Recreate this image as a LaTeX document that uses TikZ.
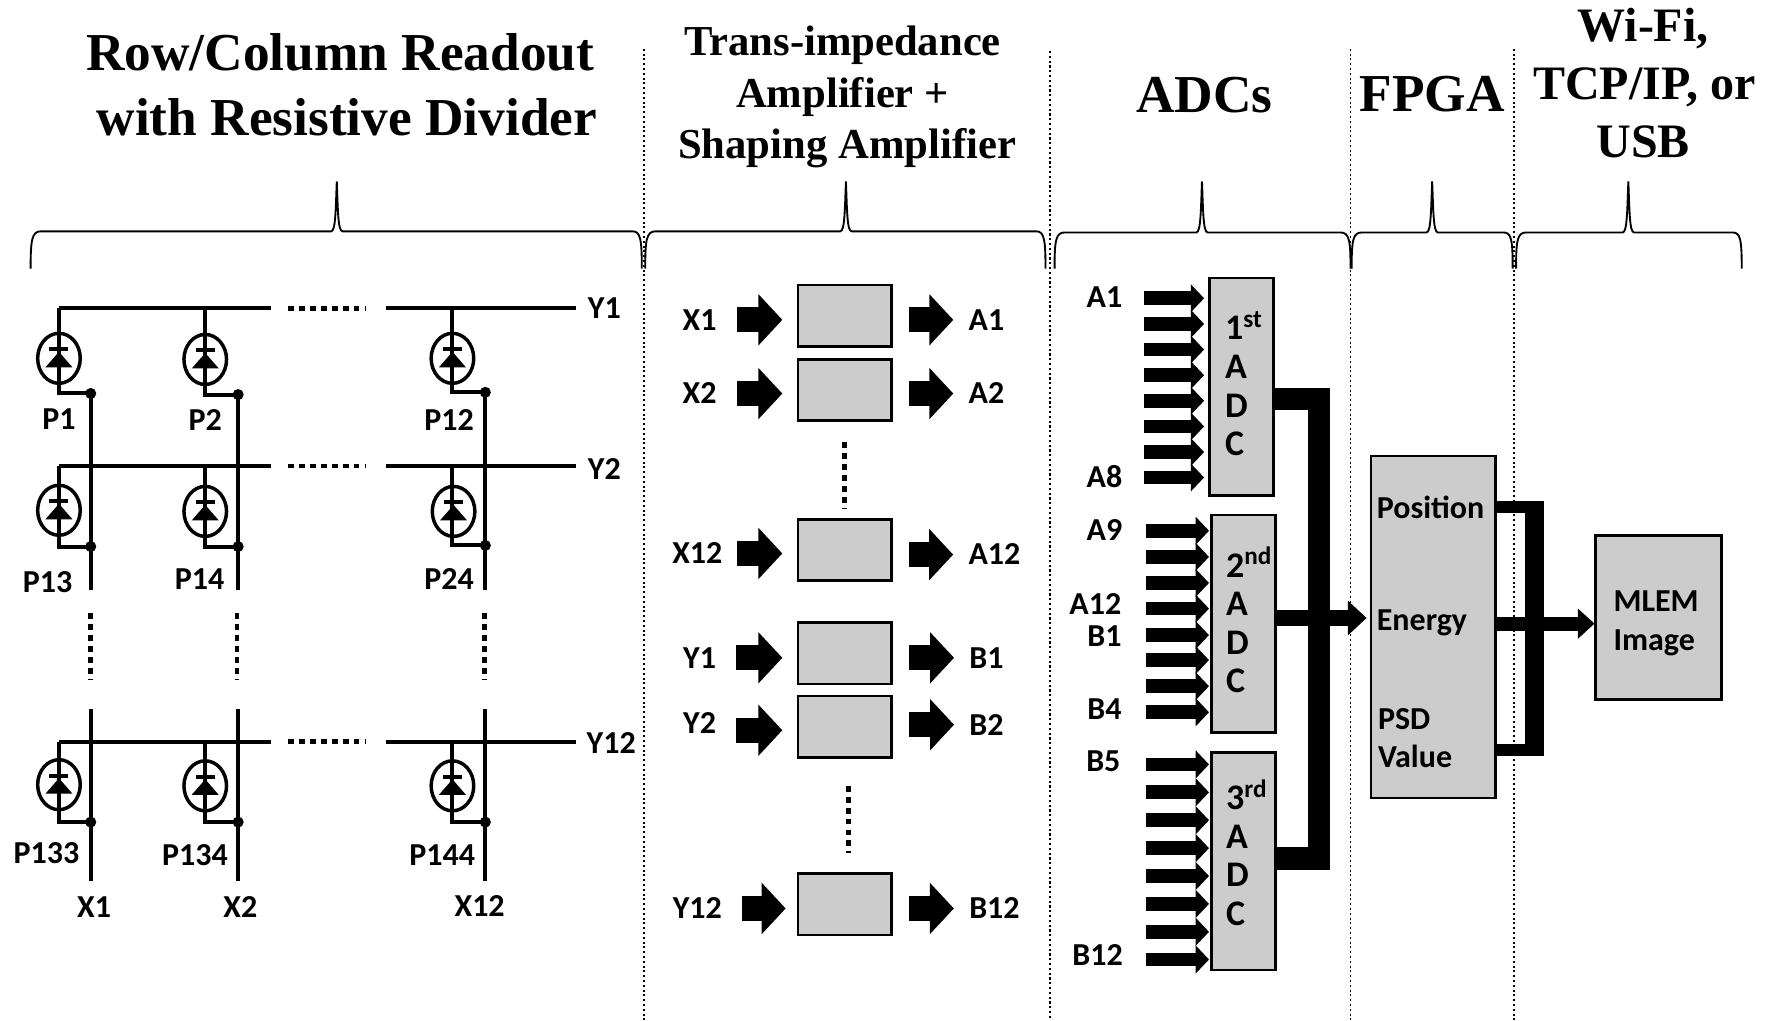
\documentclass[tikz,border=0pt]{standalone}
\usepackage{fontspec}
\setmainfont{Liberation Serif}
\setsansfont{Carlito}
\usetikzlibrary{arrows.meta}
\usetikzlibrary{calc}
\tikzset{>={Triangle[length=18pt,width=37.5pt]}}
\tikzset{
  lab/.style={font=\sffamily\bfseries\fontsize{24}{29}\selectfont,inner sep=0pt},
  heada/.style={font=\bfseries\fontsize{40}{40}\selectfont,inner sep=0pt},
  headb/.style={font=\bfseries\fontsize{32}{32}\selectfont,inner sep=0pt},
  headc/.style={font=\bfseries\fontsize{36}{36}\selectfont,inner sep=0pt},
  graybox/.style={draw,line width=1.9pt,fill={rgb, 255:red, 205; green, 204; blue, 204 },inner sep=0pt},
  ampbox/.style={graybox,minimum width=70pt,minimum height=46pt},
  adcbox/.style={graybox,minimum width=48pt,minimum height=163pt},
  adctext/.style={inner sep=0pt,text width=25pt,align=left,font=\sffamily\bfseries\fontsize{27}{29}\selectfont},
  wire/.style={line width=3pt},
  spots/.style={line width=3.5pt,dash pattern=on 4.4pt off 3.8pt},
  divider/.style={line width=1.1pt,dash pattern=on 1.6pt off 2pt},
  groupline/.style={line width=1.4pt},
  ampin/.style={->,line width=19pt,shorten <=15pt,shorten >=11pt},
  ampout/.style={->,line width=19pt,shorten <=12pt,shorten >=11.5pt},
  adcin/.style={-{Triangle[length=10pt,width=20.5pt]},line width=10.3pt,shorten >=1pt},
  bus/.style={line width=16.7pt},
  busarrow/.style={-{Triangle[length=14pt,width=25pt]},line width=12.7pt,shorten >=2.5pt},
  outarrow/.style={-{Triangle[length=12.5pt,width=22pt]},line width=10.7pt,shorten <=-2.5pt},
  detector/.pic={
    \draw [line width=2.6pt] (0,0) ellipse [x radius=21.3, y radius=25];
    \fill (-13.5,-9) -- (13.5,-9) -- (0,6.5) -- cycle;
    \draw [wire] (-9.5,9) -- (9.5,9);
  }
}
\begin{document}
\begin{tikzpicture}[x=0.75pt,y=0.75pt,yscale=-1.134,xscale=1.134]
\useasboundingbox (0,0) rectangle (1568,900);

%Dividers
\draw [divider] (568,43) -- (568,900);
\draw [divider] (926,45) -- (926,900);
\draw [divider] (1191,43) -- (1191,900);
\draw [divider] (1335,43) -- (1335,900);

%Headings
\node [heada] (headrow) at (300,46) {Row/Column Readout};
\node [heada] (headdiv) at (306,103) {with Resistive Divider};
\node [headb] (headtrans) at (743,40) {Trans-impedance};
\node [headb] (headamp) at (743,86) {Amplifier +};
\node [headb] (headshape) at (747,131) {Shaping Amplifier};
\node [heada] (headadc) at (1062,84) {ADCs};
\node [heada] (headfpga) at (1263,83) {FPGA};
\node [headc] (headwifi) at (1449,25) {Wi-Fi,};
\node [headc] (headtcp) at (1450,77) {TCP/IP, or};
\node [headc] (headusb) at (1449,125) {USB};

%Curve Lines
\draw [groupline] (27,237) .. controls (27,212) and (28,204) .. (36,204) -- (292,204) .. controls (296,204) and (296,185) .. (297,160) .. controls (298,185) and (298,204) .. (302,204) -- (558,204) .. controls (565,204) and (566,212) .. (566,237);
%Curve Lines
\draw [groupline] (569,237) .. controls (569,212) and (570,204) .. (578,204) -- (741,204) .. controls (745,204) and (745,185) .. (746,160) .. controls (747,185) and (747,204) .. (751,204) -- (914,204) .. controls (921,204) and (922,212) .. (922,237);
%Curve Lines
\draw [groupline] (930,237) .. controls (930,212) and (931,205) .. (939,205) -- (1055,205) .. controls (1059,205) and (1059,185) .. (1060,160) .. controls (1061,185) and (1061,205) .. (1065,205) -- (1182,205) .. controls (1190,205) and (1191,212) .. (1191,237);
%Curve Lines
\draw [groupline] (1192,237) .. controls (1192,212) and (1193,205) .. (1201,205) -- (1258,205) .. controls (1262,205) and (1262,185) .. (1263,160) .. controls (1264,185) and (1264,205) .. (1268,205) -- (1326,205) .. controls (1333,205) and (1334,212) .. (1334,237);
%Curve Lines
\draw [groupline] (1337,237) .. controls (1337,212) and (1338,205) .. (1346,205) -- (1431,205) .. controls (1435,205) and (1435,185) .. (1436,160) .. controls (1437,185) and (1437,205) .. (1441,205) -- (1528,205) .. controls (1535,205) and (1536,212) .. (1536,237);

%Row labels
\node [lab] (rowy1) at (533,272) {Y1};
\node [lab] (rowy2) at (533,414) {Y2};
\node [lab] (rowy12) at (539,655) {Y12};
%Row lines
\draw [wire] (52,272) -- (239,272);
\draw [spots] (254,272) -- (323,272);
\draw [wire] (340,272) -- (508,272);
\draw [wire] (52,411) -- (239,411);
\draw [spots] (254,411) -- (323,411);
\draw [wire] (340,411) -- (508,411);
\draw [wire] (52,654) -- (239,654);
\draw [spots] (254,654) -- (323,654);
\draw [wire] (340,654) -- (508,654);

%Column lines
\draw [wire] (80,347) -- (80,520);
\draw [wire] (210,348) -- (210,520);
\draw [wire] (428,346) -- (428,520);
\draw [spots] (80,541) -- (80,600);
\draw [spots] (209,541) -- (209,600);
\draw [spots] (427,541) -- (427,600);
\draw [wire] (80,625) -- (80,777);
\draw [wire] (210,625) -- (210,777);
\draw [wire] (428,625) -- (428,777);

%First row of detectors
\draw [wire] (52,272) -- (52,347) -- (80,347);
\draw [wire] (181,272) -- (181,348) -- (210,348);
\draw [wire] (399,272) -- (399,346) -- (428,346);
\pic at (52,316) {detector};
\pic at (181,317) {detector};
\pic at (399,316) {detector};
\fill (80,347) circle (4.9);
\fill (210,348) circle (4.9);
\fill (428,346) circle (4.9);
%Second row of detectors
\draw [wire] (52,411) -- (52,482) -- (80,482);
\draw [wire] (181,411) -- (181,482) -- (210,482);
\draw [wire] (399,411) -- (399,481) -- (428,481);
\pic at (52,450) {detector};
\pic at (181,451) {detector};
\pic at (400,451) {detector};
\fill (80,482) circle (4.9);
\fill (210,482) circle (4.9);
\fill (428,481) circle (4.9);
%Last row of detectors
\draw [wire] (52,654) -- (52,725) -- (80,725);
\draw [wire] (181,654) -- (181,725) -- (210,725);
\draw [wire] (399,654) -- (399,725) -- (428,725);
\pic at (52,692) {detector};
\pic at (181,693) {detector};
\pic at (399,693) {detector};
\fill (80,725) circle (4.9);
\fill (210,725) circle (4.9);
\fill (428,725) circle (4.9);

%Detector labels
\node [lab] (p1) at (52,370) {P1};
\node [lab] (p2) at (181,370) {P2};
\node [lab] (p12) at (396,370) {P12};
\node [lab] (p13) at (42,513) {P13};
\node [lab] (p14) at (176,511) {P14};
\node [lab] (p24) at (396,511) {P24};
\node [lab] (p133) at (41,752) {P133};
\node [lab] (p134) at (172,754) {P134};
\node [lab] (p144) at (390,754) {P144};
\node [lab] (colx1) at (83,800) {X1};
\node [lab] (colx2) at (212,800) {X2};
\node [lab] (colx12) at (423,799) {X12};

%Shape: Rectangle
\node [ampbox] (ampx1) at (745,278.5) {};
\node [ampbox] (ampx2) at (745,344) {};
\node [ampbox] (ampx12) at (745,485) {};
\node [ampbox] (ampy1) at (745,576) {};
\node [ampbox] (ampy2) at (745,641) {};
\node [ampbox] (ampy12) at (745,797.5) {};
\draw [spots] (745,390) -- (745,448);
\draw [spots] (748,693) -- (748,752);

%Amplifier inputs
\node [lab] (inx1) at (617,282) {X1};
\node [lab] (inx2) at (617,347) {X2};
\node [lab] (inx12) at (615,488) {X12};
\node [lab] (iny1) at (617,580) {Y1};
\node [lab] (iny2) at (617,638) {Y2};
\node [lab] (iny12) at (615,801) {Y12};
\draw [ampin] (inx1.east) -- (ampx1.west |- inx1);
\draw [ampin] (inx2.east) -- (ampx2.west |- inx2);
\draw [ampin,shorten <=11pt] (inx12.east) -- (ampx12.west |- inx12);
\draw [ampin] (iny1.east) -- (ampy1.west |- iny1);
\draw [ampin] (iny2.east |- 0,644) -- (ampy2.west |- 0,644);
\draw [ampin,shorten >=8.5pt] (iny12.east) -- (ampy12.west |- iny12);

%Amplifier outputs
\node [lab] (outa1) at (870,282) {A1};
\node [lab] (outa2) at (870,347) {A2};
\node [lab] (outa12) at (877,489) {A12};
\node [lab] (outb1) at (870,580) {B1};
\node [lab] (outb2) at (870,639) {B2};
\node [lab] (outb12) at (877,801) {B12};
\draw [ampout] (ampx1.east |- outa1) -- (outa1.west);
\draw [ampout] (ampx2.east |- outa2) -- (outa2.west);
\draw [ampout] (ampx12.east |- outa12) -- (outa12.west);
\draw [ampout] (ampy1.east |- outb1) -- (outb1.west);
\draw [ampout] (ampy2.east |- outb2) -- (outb2.west);
\draw [ampout] (ampy12.east |- outb12) -- (outb12.west);

%Shape: Rectangle
\node [adcbox] (adca) at (1095,341) {};
\node [adcbox] (adcb) at (1096.5,550) {};
\node [adcbox] (adcc) at (1096.5,759.5) {};
\node [adctext] (adcatext) at (1095,338.5) {1\textsuperscript{st}\\A\\D\\C};
\node [adctext] (adcbtext) at (1096,547) {2\textsuperscript{nd}\\A\\D\\C};
\node [adctext] (adcctext) at (1096,752) {3\textsuperscript{rd}\\A\\D\\C};

%ADC input labels
\node [lab] (ina1) at (974,262) {A1};
\node [lab] (ina8) at (974,420) {A8};
\node [lab] (ina9) at (974,467) {A9};
\node [lab] (ina12) at (966,533) {A12};
\node [lab] (inb1) at (974,561) {B1};
\node [lab] (inb4) at (974,625) {B4};
\node [lab] (inb5) at (973,671) {B5};
\node [lab] (inb12) at (968,842) {B12};

%First ADC inputs
\coordinate (aa1) at (1009,263);
\coordinate (aa2) at (1009,285.6);
\coordinate (aa3) at (1009,308.2);
\coordinate (aa4) at (1009,330.8);
\coordinate (aa5) at (1009,353.4);
\coordinate (aa6) at (1009,376);
\coordinate (aa7) at (1009,398.6);
\coordinate (aa8) at (1009,421);
\draw [adcin,shorten >=3.4pt] (aa1) -- (aa1 -| adca.west);
\draw [adcin,shorten >=3.4pt] (aa2) -- (aa2 -| adca.west);
\draw [adcin,shorten >=3.4pt] (aa3) -- (aa3 -| adca.west);
\draw [adcin,shorten >=3.4pt] (aa4) -- (aa4 -| adca.west);
\draw [adcin,shorten >=3.4pt] (aa5) -- (aa5 -| adca.west);
\draw [adcin,shorten >=3.4pt] (aa6) -- (aa6 -| adca.west);
\draw [adcin,shorten >=3.4pt] (aa7) -- (aa7 -| adca.west);
\draw [adcin,shorten >=3.4pt] (aa8) -- (aa8 -| adca.west);
%Second ADC inputs
\coordinate (ab1) at (1010,468);
\coordinate (ab2) at (1010,491);
\coordinate (ab3) at (1010,514);
\coordinate (ab4) at (1010,536.6);
\coordinate (ab5) at (1010,560);
\coordinate (ab6) at (1010,582);
\coordinate (ab7) at (1010,605);
\coordinate (ab8) at (1010,628);
\draw [adcin] (ab1) -- (ab1 -| adcb.west);
\draw [adcin] (ab2) -- (ab2 -| adcb.west);
\draw [adcin] (ab3) -- (ab3 -| adcb.west);
\draw [adcin] (ab4) -- (ab4 -| adcb.west);
\draw [adcin] (ab5) -- (ab5 -| adcb.west);
\draw [adcin] (ab6) -- (ab6 -| adcb.west);
\draw [adcin] (ab7) -- (ab7 -| adcb.west);
\draw [adcin] (ab8) -- (ab8 -| adcb.west);
%Third ADC inputs
\coordinate (ac1) at (1010,674);
\coordinate (ac2) at (1010,698.6);
\coordinate (ac3) at (1010,723.2);
\coordinate (ac4) at (1010,747.8);
\coordinate (ac5) at (1010,772.4);
\coordinate (ac6) at (1010,797);
\coordinate (ac7) at (1010,821.6);
\coordinate (ac8) at (1010,846);
\draw [adcin] (ac1) -- (ac1 -| adcc.west);
\draw [adcin] (ac2) -- (ac2 -| adcc.west);
\draw [adcin] (ac3) -- (ac3 -| adcc.west);
\draw [adcin] (ac4) -- (ac4 -| adcc.west);
\draw [adcin] (ac5) -- (ac5 -| adcc.west);
\draw [adcin] (ac6) -- (ac6 -| adcc.west);
\draw [adcin] (ac7) -- (ac7 -| adcc.west);
\draw [adcin] (ac8) -- (ac8 -| adcc.west);

%Shape: Rectangle
\node [graybox,minimum width=93.5pt,minimum height=256.7pt] (fpga) at (1264,553) {};
\node [graybox,minimum width=94.4pt,minimum height=123.3pt] (mlem) at (1462.5,544.5) {};
\node [lab,align=left] (mlemtext) at (1460.5,550) {MLEM\\Image};
\node [lab,anchor=west] (fpos) at (1214,447) {Position};
\node [lab,anchor=west] (fenergy) at (1214,549) {Energy};
\node [lab,anchor=west,align=left] (fpsd) at (1215,651) {PSD\\Value};

%ADC outputs
\draw [bus] (adca.east |- 0,352) -| (1163,757) -- (adcc.east |- 0,757);
\draw [busarrow] (adcb.east |- 0,545) -- (fpga.west |- 0,545);

%FPGA outputs
\draw [line width=9.4pt] (fpga.east |- 0,447) -- (1362,447);
\draw [line width=9.4pt] (fpga.east |- 0,661.5) -- (1362,661.5);
\draw [line width=14.5pt] (1353.5,441.5) -- (1353.5,667);
\draw [outarrow] (fpga.east |- 0,550) -- (mlem.west |- 0,550);
\end{tikzpicture}
\end{document}
